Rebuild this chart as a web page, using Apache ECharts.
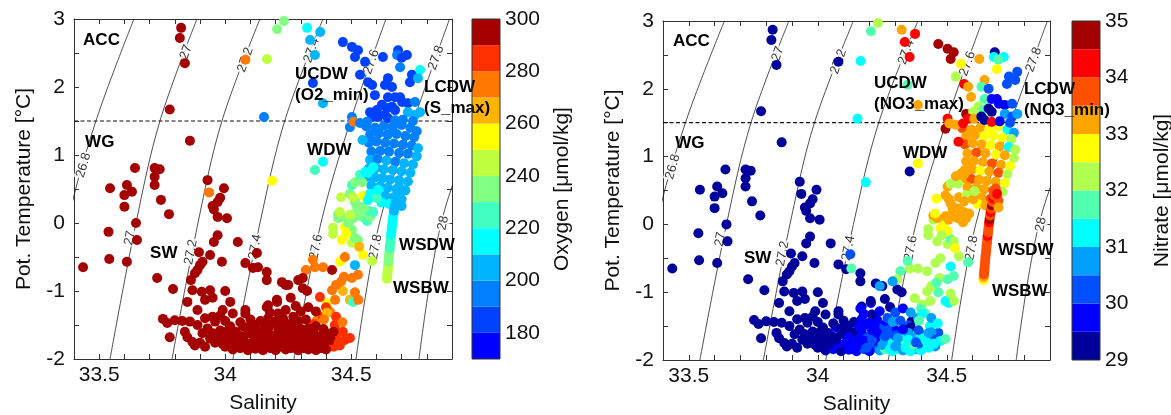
<!DOCTYPE html>
<html>
<head>
<meta charset="utf-8">
<script src="https://cdn.jsdelivr.net/npm/echarts/dist/echarts.min.js"></script>
<style>
  html, body { margin: 0; padding: 0; background: #fff; }
  #chart { width: 1171px; height: 415px; }
</style>
</head>
<body>
<div id="chart"></div>
<script>
// ---- Hydrographic samples: [salinity, potential temperature, oxygen, nitrate] ----
const wdwCore = [
  [34.560,1.42,192,33.8],[34.595,1.40,190,33.3],[34.630,1.43,190,33.3],[34.665,1.41,192,32.9],
  [34.700,1.44,192,32.8],[34.735,1.40,195,31.2],[34.760,1.35,198,30.7],[34.575,1.30,192,33.3],
  [34.610,1.32,192,33.4],[34.645,1.30,195,32.9],[34.680,1.31,195,32.8],[34.715,1.28,195,32.9],
  [34.750,1.26,198,32.3],[34.570,1.18,195,33.7],[34.600,1.20,195,33.3],[34.635,1.18,195,33.3],
  [34.670,1.17,198,32.8],[34.705,1.15,195,33.2],[34.740,1.14,198,31.2],[34.765,1.10,202,32.3],
  [34.580,1.05,198,33.3],[34.615,1.06,195,33.6],[34.650,1.05,198,33.3],[34.690,1.03,198,32.9],
  [34.725,1.02,198,33.2],[34.760,0.98,205,32.2],[34.575,0.93,202,33.3],[34.605,0.94,198,33.4],
  [34.640,0.92,202,33.3],[34.675,0.90,198,33.7],[34.710,0.88,202,33.3],[34.745,0.86,205,32.8],
  [34.570,0.80,205,33.3],[34.600,0.81,202,33.3],[34.630,0.79,205,32.9],[34.665,0.78,202,33.3],
  [34.700,0.76,205,33.7],[34.735,0.74,205,32.3],[34.565,0.68,205,33.3],[34.595,0.67,205,33.6],
  [34.625,0.66,205,33.3],[34.655,0.64,205,33.3],[34.690,0.63,205,33.3],[34.725,0.61,208,32.9],
  [34.580,0.55,208,33.3],[34.615,0.54,205,33.3],[34.645,0.52,205,33.3],[34.680,0.50,208,33.7],
  [34.715,0.48,208,32.3],[34.600,0.42,212,33.3],[34.635,0.40,208,33.4],[34.670,0.38,208,33.7],
  [34.620,0.30,215,32.8],[34.650,0.28,212,33.3]
];

const wsdwColumn = [
  [34.642,-0.82,245,32.8],[34.643,-0.78,245,33.2],[34.644,-0.74,245,33.6],[34.645,-0.70,245,33.7],
  [34.646,-0.66,245,33.7],[34.647,-0.62,240,33.7],[34.648,-0.57,235,33.7],[34.649,-0.52,235,33.7],
  [34.650,-0.47,235,33.7],[34.652,-0.42,230,33.7],[34.653,-0.37,228,33.7],[34.654,-0.32,225,33.7],
  [34.656,-0.27,225,33.7],[34.657,-0.22,222,33.8],[34.658,-0.17,218,34.1],[34.660,-0.12,215,33.7],
  [34.661,-0.07,215,33.7],[34.663,-0.02,215,33.7],[34.664,0.03,215,34.2],[34.666,0.08,212,34.6],
  [34.668,0.13,210,33.7],[34.670,0.18,208,34.2],[34.672,0.23,205,33.7],[34.675,0.28,205,34.6],
  [34.678,0.33,205,33.7],[34.680,0.38,205,34.2],[34.683,0.43,205,33.7],[34.686,0.48,205,33.7],
  [34.690,0.53,205,33.7],[34.700,0.35,205,33.7],[34.695,0.45,205,34.2],[34.700,0.25,205,33.3]
];

const cdwUpper = [
  [34.080,2.40,275,29.2],[34.166,2.41,245,31.2],[34.206,2.85,235,31.7],[34.233,2.97,235,32.2],
  [34.154,1.56,195,31.2],[34.325,2.87,210,33.3],[34.377,2.81,200,34.2],[34.337,2.69,205,34.3],
  [34.356,2.47,205,34.2],[34.467,2.66,185,34.7],[34.503,2.59,185,34.7],[34.527,2.54,185,34.6],
  [34.515,2.44,185,34.7],[34.555,2.37,185,32.8],[34.535,2.18,185,32.3],[34.567,2.07,180,34.2],
  [34.348,2.06,180,31.7],[34.388,1.76,200,33.3],[34.503,1.56,195,34.0],[34.495,1.41,195,34.8],
  [34.510,1.49,275,33.3],[34.686,2.54,185,29.3],[34.682,2.47,190,31.2],[34.721,2.47,185,31.2],
  [34.700,2.43,185,31.6],[34.626,2.44,185,33.0],[34.694,2.29,190,32.8],[34.741,2.18,185,30.0],
  [34.733,2.07,185,30.2],[34.773,2.25,210,30.0],[34.765,2.13,205,30.2],[34.646,2.13,185,33.4],
  [34.634,2.03,180,31.7],[34.662,2.00,180,30.4],[34.583,2.03,180,33.3],[34.594,1.88,185,33.3],
  [34.646,1.85,180,31.7],[34.674,1.85,180,29.8],[34.694,1.85,180,29.8],[34.622,1.74,180,32.3],
  [34.642,1.69,180,31.7],[34.662,1.71,180,29.3],[34.674,1.66,180,29.3],[34.702,1.78,185,29.8],
  [34.725,1.76,185,29.8],[34.753,1.78,190,30.2],[34.575,1.63,185,34.6],[34.602,1.66,180,32.3],
  [34.583,1.56,180,34.2],[34.606,1.56,185,33.3],[34.634,1.59,185,29.3],[34.646,1.54,185,29.3],
  [34.674,1.51,190,34.2],[34.725,1.63,200,30.5],[34.753,1.59,200,30.2],[34.773,1.63,205,30.6],
  [34.535,1.47,195,33.3],[34.563,1.49,190,34.2],[34.545,1.22,205,34.2],[34.745,1.50,195,30.2],
  [34.705,1.52,190,29.5]
];

const mixedLayer = [
  [34.309,-1.43,245,31.2],[34.280,-1.55,215,33.3],[34.364,-1.43,272,29.3],[34.388,-1.38,282,30.7],
  [34.435,-1.50,285,31.2],[34.467,-1.60,285,30.3],[34.475,-1.72,282,31.3],[34.495,-1.69,285,31.7],
  [34.455,-1.80,285,30.7],[34.404,-1.18,255,32.0],[34.416,-1.31,270,31.5],[34.376,-1.09,282,32.2],
  [34.436,-1.13,272,32.4],[34.424,-0.99,275,32.0],[34.467,-1.00,265,31.7],[34.495,-1.13,265,31.2],
  [34.507,-1.16,225,31.2],[34.515,-1.02,275,32.2],[34.400,-1.24,282,31.8],[34.440,-1.38,282,30.7],
  [34.465,-1.46,278,31.2],[34.356,-0.65,275,32.2],[34.388,-0.65,275,32.2],[34.348,-0.54,275,31.7],
  [34.424,-0.69,295,32.2],[34.471,-0.79,275,32.0],[34.503,-0.81,275,31.6],[34.456,-0.57,255,32.3],
  [34.515,-0.62,205,31.2],[34.527,-0.76,275,31.5],[34.475,-0.50,270,32.4],[34.547,-0.47,255,32.2],
  [34.583,-0.56,245,31.8],[34.463,-0.25,255,32.4],[34.503,-0.29,245,32.2],[34.515,-0.22,235,31.8],
  [34.527,-0.25,238,32.2],[34.503,-0.10,238,32.8],[34.475,-0.06,255,32.8],[34.428,-0.07,245,32.2],
  [34.448,0.07,235,32.2],[34.488,0.00,235,32.7],[34.507,0.07,235,33.3],[34.515,0.13,232,33.3],
  [34.448,0.13,235,33.2],[34.463,0.09,235,33.1],[34.543,0.09,230,33.3],[34.563,0.03,225,33.4],
  [34.575,0.09,230,33.3],[34.587,0.16,225,33.3],[34.567,0.18,228,33.4],[34.551,0.21,230,33.3],
  [34.539,0.24,232,33.2],[34.523,0.24,232,33.3],[34.515,0.31,235,33.3],[34.495,0.43,238,33.3],
  [34.507,0.38,240,33.2],[34.460,0.38,245,32.8],[34.547,0.40,255,33.0],[34.575,0.43,215,32.2],
  [34.567,0.34,215,33.3],[34.543,0.60,235,32.2],[34.567,0.74,215,33.3],[34.587,0.82,210,33.3],
  [34.503,0.56,225,33.3],[34.515,0.60,230,32.2],[34.535,0.71,220,33.3],[34.555,0.75,215,33.3],
  [34.602,0.37,220,33.3],[34.607,0.49,215,32.3],[34.388,0.90,215,32.8],[34.356,0.78,225,29.3],
  [34.186,0.62,255,31.2],[34.455,0.16,245,32.5],[34.495,0.12,245,33.0],[34.428,-0.16,245,32.2],
  [34.480,-0.16,255,32.2],[34.532,-0.35,265,32.8],[34.320,-0.69,275,31.8],[34.308,-0.81,295,32.2],
  [34.308,-0.96,295,29.3],[34.440,-0.91,272,32.2],[34.460,-0.86,272,31.8],[34.528,-1.13,272,32.4],
  [34.404,-1.32,265,31.2],[34.392,-1.42,272,31.7],[34.440,-1.59,282,30.7],[34.350,-1.49,285,30.2],
  [34.343,-1.58,285,30.7]
];

const coldBottom = [
  [33.753,-1.41,295,29.2],[33.770,-1.47,295,29.2],[33.800,-1.43,295,29.2],[33.830,-1.44,295,29.2],
  [33.860,-1.45,295,29.2],[33.890,-1.50,295,29.2],[33.920,-1.40,295,29.2],[33.950,-1.38,295,29.2],
  [33.980,-1.36,295,29.2],[34.030,-1.33,295,29.2],[34.080,-1.33,295,29.2],[33.960,-1.45,295,29.2],
  [34.000,-1.44,295,29.2],[33.780,-1.68,295,29.2],[33.840,-1.60,295,29.2],[33.850,-1.68,295,29.2],
  [33.870,-1.75,295,29.2],[33.900,-1.76,295,29.2],[33.910,-1.62,295,29.2],[33.930,-1.55,295,29.2],
  [33.960,-1.76,295,29.2],[33.980,-1.58,295,29.2],[34.000,-1.65,295,29.2],[34.020,-1.52,295,29.2],
  [34.040,-1.60,295,29.2],[34.050,-1.72,295,29.2],[34.070,-1.52,295,29.7],[34.090,-1.62,295,29.2],
  [34.100,-1.80,295,29.7],[34.120,-1.50,295,29.2],[34.130,-1.70,295,29.7],[34.150,-1.58,295,29.2],
  [34.170,-1.78,295,29.7],[34.180,-1.48,295,29.7],[34.190,-1.66,295,30.2],[34.210,-1.56,295,29.7],
  [34.220,-1.82,295,30.2],[34.230,-1.72,295,29.7],[34.250,-1.62,295,30.7],[34.260,-1.48,295,29.7],
  [34.270,-1.78,295,31.2],[34.280,-1.68,295,30.2],[34.300,-1.56,295,29.7],[34.310,-1.84,295,31.7],
  [34.320,-1.72,295,30.7],[34.330,-1.63,295,31.2],[34.350,-1.80,295,30.2],[34.360,-1.52,295,29.3],
  [34.370,-1.70,295,31.2],[34.380,-1.84,295,30.7],[34.400,-1.62,292,30.7],[34.410,-1.76,292,31.7],
  [34.430,-1.82,288,31.2],[34.440,-1.68,288,30.2],[34.000,-1.82,295,29.2],[34.030,-1.86,295,29.2],
  [34.060,-1.84,295,29.7],[34.090,-1.87,295,29.2],[34.120,-1.85,295,29.7],[34.150,-1.87,295,29.7],
  [34.180,-1.84,295,30.2],[34.200,-1.87,295,29.7],[34.240,-1.86,295,30.7],[34.260,-1.84,295,31.7],
  [34.290,-1.87,295,31.2],[34.330,-1.86,295,30.7],[34.360,-1.87,295,31.2],[34.400,-1.86,295,31.2],
  [34.020,-1.74,295,29.2],[34.060,-1.66,295,29.2],[34.080,-1.76,295,29.7],[34.110,-1.58,295,29.2],
  [34.140,-1.78,295,29.7],[34.160,-1.68,295,29.7],[34.200,-1.75,295,30.2],[34.220,-1.64,295,29.7],
  [34.240,-1.54,295,30.2],[34.260,-1.70,295,30.7],[34.290,-1.75,295,31.2],[34.300,-1.64,295,30.2],
  [34.340,-1.74,295,31.7],[34.350,-1.60,295,30.7],[34.380,-1.66,295,31.2],[34.390,-1.76,295,30.2],
  [34.420,-1.72,290,31.2],[34.100,-1.42,295,29.2],[34.140,-1.44,295,29.2],[34.170,-1.40,295,29.7],
  [34.200,-1.45,295,29.7],[34.230,-1.41,295,29.7],[34.270,-1.38,295,30.2],[34.290,-1.44,295,30.7],
  [34.210,-1.33,295,29.3],[34.320,-1.42,295,30.2],[34.250,-0.91,295,29.3],[34.325,-1.00,295,29.3],
  [34.206,-1.16,295,29.8],[34.170,-1.21,295,29.3],[34.178,-1.32,295,29.7],
  [33.950,-1.62,295,29.2],[33.970,-1.70,295,29.2],[33.990,-1.78,295,29.2],[34.010,-1.58,295,29.2],
  [34.030,-1.68,295,29.2],[34.050,-1.80,295,29.7],[34.070,-1.70,295,29.2],[34.090,-1.54,295,29.2],
  [34.110,-1.74,295,29.7],[34.130,-1.62,295,29.2],[34.150,-1.80,295,29.7],[34.170,-1.56,295,29.7],
  [34.180,-1.72,295,29.7],[34.210,-1.70,295,30.2],[34.230,-1.60,295,29.7],[34.250,-1.78,295,30.7],
  [34.270,-1.56,295,30.2],[34.280,-1.84,295,31.2],[34.310,-1.68,295,30.7],[34.330,-1.55,295,29.7],
  [34.340,-1.82,295,31.2],[34.360,-1.66,295,30.7],[34.370,-1.78,295,31.7],[34.390,-1.56,292,30.2],
  [34.410,-1.68,292,31.2],[34.430,-1.60,290,30.7],[34.450,-1.76,288,31.2],[34.120,-1.66,295,29.7],
  [34.190,-1.82,295,30.2],[34.040,-1.78,295,29.2],[33.940,-1.70,295,29.2],[33.920,-1.82,295,29.2],
  [33.880,-1.80,295,29.2],[34.220,-1.50,295,29.7],[34.160,-1.50,295,29.7],[34.060,-1.46,295,29.2],
  [34.260,-1.65,295,30.2],[34.350,-1.70,295,31.2],[34.300,-1.80,295,30.7],[34.380,-1.74,295,30.2],
  [34.240,-1.28,295,29.7],[34.280,-1.22,295,29.3],[34.300,-1.30,295,30.2],[34.330,-1.24,295,29.7],
  [34.260,-1.10,295,29.3],[34.360,-1.30,295,30.7]
];

const shelfWater = [
  [33.825,2.87,295,29.2],[33.820,2.72,295,29.2],[33.840,2.35,295,29.2],[33.780,1.67,295,29.2],
  [33.860,1.21,295,29.2],[33.642,0.81,295,29.2],[33.543,0.51,295,29.2],[33.610,0.56,295,29.2],
  [33.630,0.46,295,29.2],[33.600,0.41,295,29.2],[33.720,0.81,295,29.2],[33.740,0.79,295,29.2],
  [33.720,0.68,295,29.2],[33.720,0.56,295,29.2],[33.745,0.34,295,29.2],[33.930,0.63,295,29.2],
  [33.936,0.45,275,29.2],[33.995,0.51,295,29.2],[33.980,0.37,295,29.2],[33.970,0.31,295,29.2],
  [33.950,0.25,295,29.2],[33.600,0.24,295,29.2],[33.777,0.13,295,29.2],[33.646,0.00,295,29.2],
  [33.537,-0.13,295,29.2],[33.650,-0.25,295,29.2],[33.540,-0.53,295,29.2],[33.610,-0.57,295,29.2],
  [33.436,-0.65,295,29.2],[33.730,-0.81,295,29.2],[33.793,-0.97,295,29.2],[33.955,0.20,295,29.2],
  [33.970,0.09,295,29.2],[34.007,0.07,295,29.2],[33.970,-0.18,295,29.2],[33.955,-0.28,295,29.2],
  [33.896,-0.43,295,29.2],[33.940,-0.47,295,29.2],[33.910,-0.57,295,29.2],[33.900,-0.62,295,29.2],
  [33.890,-0.69,295,29.2],[33.880,-0.74,295,29.2],[33.864,-0.84,295,29.2],[33.987,-0.57,295,29.2],
  [34.050,-0.28,295,29.2],[34.080,-0.59,295,29.2],[34.110,-0.66,295,29.2],[34.130,-0.65,295,31.7],
  [34.165,-0.72,295,29.2],[34.165,-0.84,295,29.2],[34.126,-0.44,295,30.2],[34.225,-0.87,295,29.3],
  [34.240,-0.91,295,30.7],[34.290,-0.84,295,30.6],[33.907,-1.01,295,29.2],[33.940,-0.99,295,29.2],
  [33.920,-1.13,295,29.2],[33.950,-1.10,295,29.2],[34.000,-1.00,295,29.2],[34.020,-1.16,295,29.2],
  [33.990,-1.28,295,29.2],[33.890,-1.28,295,29.2],[33.850,-1.16,295,29.2],[33.870,-0.99,295,29.2],
  [34.080,-1.28,295,29.2],[34.165,-1.24,295,29.8],[34.205,-1.13,295,29.3]
];

// ---- Isopycnals (sigma-theta): salinity at each reference temperature ----
const isoTemps = [-2, 0, 1.5, 3];
const isoLevels = ['26.8', '27', '27.2', '27.4', '27.6', '27.8', '28'];
const iso268 = [33.290, 33.375, 33.487, 33.638];
const iso270 = [33.543, 33.646, 33.741, 33.888];
const iso272 = [33.789, 33.892, 33.987, 34.138];
const iso274 = [34.031, 34.138, 34.236, 34.388];
const iso276 = [34.273, 34.380, 34.497, 34.638];
const iso278 = [34.519, 34.612, 34.747, 34.890];
const iso280 = [34.769, 34.857, 34.997, 35.140];
const isoSalinities = [iso268, iso270, iso272, iso274, iso276, iso278, iso280];

// contour labels: [salinity, temperature, text]
const isoLabels = [
  [33.438, 0.85, '26.8'], [33.845, 2.515, '27'], [33.622, -0.22, '27'],
  [34.080, 2.40, '27.2'], [33.864, -0.43, '27.2'], [34.343, 2.54, '27.4'],
  [34.119, -0.35, '27.4'], [34.580, 2.37, '27.6'], [34.361, -0.35, '27.6'],
  [34.837, 2.43, '27.8'], [34.597, -0.35, '27.8'], [34.865, 0.0, '28']
];

// ACC / Weddell Gyre boundary temperature
const frontTemp = 1.5;

// water-mass annotations: [salinity, temperature, text]
const oxygenNotes = [
  [33.436, 2.69, 'ACC'], [33.444, 1.18, 'WG'], [34.277, 2.033, 'UCDW\n(O2_min)'],
  [34.789, 1.846, 'LCDW\n(S_max)'], [34.325, 1.074, 'WDW'], [33.702, -0.449, 'SW'],
  [34.690, -0.324, 'WSDW'], [34.666, -0.963, 'WSBW']
];
const nitrateNotes = [
  [33.439, 2.705, 'ACC'], [33.447, 1.20, 'WG'], [34.218, 1.927, 'UCDW\n(NO3_max)'],
  [34.799, 1.831, 'LCDW\n(NO3_min)'], [34.330, 1.046, 'WDW'], [33.714, -0.503, 'SW'],
  [34.698, -0.378, 'WSDW'], [34.675, -0.990, 'WSBW']
];

// ---- Axis ranges and colour scales ----
const salRange = [33.4, 34.9];
const tempRange = [-2, 3];
const oxygenEdges = [170, 180, 190, 200, 210, 220, 230, 240, 250, 260, 270, 280, 290, 300];
const oxygenTicks = [180, 200, 220, 240, 260, 280, 300];
const oxygenColors = ['#0000ff', '#0040ff', '#0080ff', '#00b4ff', '#00ffff', '#40ffc0',
  '#80ff80', '#c0ff40', '#ffff00', '#ffb400', '#ff7800', '#ff3000', '#a50000'];
const nitrateEdges = [29, 29.5, 30, 30.5, 31, 31.5, 32, 32.5, 33, 33.5, 34, 34.5, 35];
const nitrateTicks = [29, 30, 31, 32, 33, 34, 35];
const nitrateColors = ['#00009a', '#0000ff', '#0050ff', '#00a0ff', '#00ffff', '#50ffb0',
  '#b0ff50', '#ffff00', '#ffa500', '#ff5000', '#ff0000', '#a50000'];

const FONT = 'Arial, "Liberation Sans", Helvetica, sans-serif';
const samples = [].concat(wdwCore, wsdwColumn, cdwUpper, mixedLayer, coldBottom, shelfWater);

const chart = echarts.init(document.getElementById('chart'), null, { renderer: 'canvas' });

const panels = [
  { grid: { left: 74, top: 19, width: 378, height: 340 }, cb: { left: 472, top: 19, width: 28, height: 340 },
    valueDim: 2, edges: oxygenEdges, colors: oxygenColors, ticks: oxygenTicks,
    cbName: 'Oxygen [\u03bcmol/kg]', notes: oxygenNotes },
  { grid: { left: 663, top: 21, width: 387, height: 339 }, cb: { left: 1072, top: 21, width: 28, height: 339 },
    valueDim: 3, edges: nitrateEdges, colors: nitrateColors, ticks: nitrateTicks,
    cbName: 'Nitrate [\u03bcmol/kg]', notes: nitrateNotes }
];

const grids = [], xAxes = [], yAxes = [], series = [], visualMaps = [];
const frameColor = '#333';
// grids keep their exact box; labels and names may sit outside it
const gridBase = { containLabel: false, outerBoundsMode: 'none' };

function salLabel(v) {
  const r = Math.round(v * 10) / 10;
  return Math.abs(r * 2 - Math.round(r * 2)) < 1e-9 ? String(r) : '';
}
function tempLabel(v) {
  const r = Math.round(v * 10) / 10;
  return Number.isInteger(r) ? String(r) : '';
}
// steeper label angle where the isopycnals turn more vertical (cold water)
function isoAngle(t) {
  return t > 2 ? 70 : (t > 0.5 ? 74 : 79);
}

panels.forEach((p) => {
  const gi = grids.length;
  grids.push(Object.assign({}, gridBase, p.grid));
  const xi = xAxes.length, yi = yAxes.length;
  const tick = { show: true, inside: true, length: 5, lineStyle: { color: frameColor, width: 1 } };
  const line = { show: true, onZero: false, lineStyle: { color: frameColor, width: 1 } };
  xAxes.push({
    gridIndex: gi, type: 'value', position: 'bottom', min: salRange[0], max: salRange[1], interval: 0.1,
    axisLine: line, axisTick: tick, splitLine: { show: false },
    axisLabel: { formatter: salLabel, fontSize: 21, color: '#111', fontFamily: FONT, margin: 6 },
    name: 'Salinity', nameLocation: 'middle', nameGap: 34,
    nameTextStyle: { fontSize: 21, color: '#111', fontFamily: FONT }
  });
  xAxes.push({
    gridIndex: gi, type: 'value', position: 'top', min: salRange[0], max: salRange[1], interval: 0.1,
    axisLine: line, axisTick: tick, axisLabel: { show: false }, splitLine: { show: false }
  });
  yAxes.push({
    gridIndex: gi, type: 'value', position: 'left', min: tempRange[0], max: tempRange[1], interval: 0.5,
    axisLine: line, axisTick: tick, splitLine: { show: false },
    axisLabel: { formatter: tempLabel, fontSize: 21, color: '#111', fontFamily: FONT, margin: 9 },
    name: 'Pot. Temperature [\u00b0C]', nameLocation: 'middle', nameGap: 39, nameRotate: 90,
    nameTextStyle: { fontSize: 21, color: '#111', fontFamily: FONT }
  });
  yAxes.push({
    gridIndex: gi, type: 'value', position: 'right', min: tempRange[0], max: tempRange[1], interval: 0.5,
    axisLine: line, axisTick: tick, axisLabel: { show: false }, splitLine: { show: false }
  });

  // isopycnals
  isoSalinities.forEach((sal, i) => {
    series.push({
      type: 'line', name: 'sigma ' + isoLevels[i], xAxisIndex: xi, yAxisIndex: yi,
      data: sal.map((s, j) => [s, isoTemps[j]]), smooth: 0.35, showSymbol: false, symbol: 'none',
      lineStyle: { color: '#222', width: 0.8 }, silent: true, clip: true, z: 1
    });
  });
  // gyre boundary
  series.push({
    type: 'line', xAxisIndex: xi, yAxisIndex: yi, data: [[salRange[0], frontTemp], [salRange[1], frontTemp]],
    showSymbol: false, symbol: 'none', lineStyle: { color: '#111', width: 1.2, type: [4, 2.5] }, silent: true, z: 1
  });
  // isopycnal labels
  series.push({
    type: 'scatter', xAxisIndex: xi, yAxisIndex: yi, symbolSize: 0, silent: true, z: 2,
    data: isoLabels.map(d => ({ value: [d[0], d[1]], name: d[2], label: { rotate: isoAngle(d[1]) } })),
    label: {
      show: true, position: 'inside', formatter: q => q.name, fontSize: 13, color: '#000', fontFamily: FONT,
      backgroundColor: '#fff', padding: [0, 1], textBorderWidth: 0
    }
  });
  // samples
  const si = series.length;
  series.push({
    type: 'scatter', xAxisIndex: xi, yAxisIndex: yi, data: samples, symbolSize: 10,
    encode: { x: 0, y: 1 }, itemStyle: { opacity: 1 }, z: 3, clip: true
  });
  visualMaps.push({
    type: 'piecewise', show: false, seriesIndex: si, dimension: p.valueDim,
    pieces: p.colors.map((c, i) => (i === p.colors.length - 1
      ? { gte: p.edges[i], lte: p.edges[i + 1], color: c }
      : { gte: p.edges[i], lt: p.edges[i + 1], color: c }))
  });
  // water-mass annotations
  series.push({
    type: 'scatter', xAxisIndex: xi, yAxisIndex: yi, symbolSize: 0, silent: true, z: 4, clip: false,
    data: p.notes.map(d => ({ value: [d[0], d[1]], name: d[2] })),
    label: {
      show: true, position: [0, 0], align: 'left', verticalAlign: 'middle', formatter: q => q.name,
      fontSize: 17, fontWeight: 'bold', color: '#000', fontFamily: FONT, lineHeight: 21,
      textBorderWidth: 0, opacity: 1
    }
  });

  // colorbar
  const cg = grids.length;
  grids.push(Object.assign({}, gridBase, p.cb));
  const cx = xAxes.length, cy = yAxes.length;
  xAxes.push({ gridIndex: cg, type: 'value', min: 0, max: 1, show: false });
  yAxes.push({
    gridIndex: cg, type: 'value', position: 'right', min: p.edges[0], max: p.edges[p.edges.length - 1],
    interval: p.edges[1] - p.edges[0], axisLine: { show: false }, axisTick: { show: false }, splitLine: { show: false },
    axisLabel: {
      fontSize: 21, color: '#111', fontFamily: FONT, margin: 5,
      formatter: v => (p.ticks.some(t => Math.abs(t - v) < 1e-6) ? String(Math.round(v * 10) / 10) : '')
    },
    name: p.cbName, nameLocation: 'middle', nameRotate: 90, nameGap: 52,
    nameTextStyle: { fontSize: 21, color: '#111', fontFamily: FONT }
  });
  series.push({
    type: 'custom', xAxisIndex: cx, yAxisIndex: cy, silent: true,
    data: p.colors.map((c, i) => [p.edges[i], p.edges[i + 1], i]),
    renderItem: (params, api) => {
      const a = api.coord([0, api.value(0)]);
      const b = api.coord([1, api.value(1)]);
      return { type: 'rect', shape: { x: a[0], y: b[1], width: b[0] - a[0], height: a[1] - b[1] },
        style: { fill: p.colors[api.value(2)], stroke: null } };
    }
  });
  series.push({
    type: 'custom', xAxisIndex: cx, yAxisIndex: cy, silent: true, z: 5,
    data: [[p.edges[0], p.edges[p.edges.length - 1]]],
    renderItem: (params, api) => {
      const a = api.coord([0, api.value(0)]);
      const b = api.coord([1, api.value(1)]);
      return { type: 'rect', shape: { x: a[0], y: b[1], width: b[0] - a[0], height: a[1] - b[1] },
        style: { fill: 'none', stroke: frameColor, lineWidth: 1 } };
    }
  });
});

chart.setOption({
  animation: false,
  backgroundColor: '#fff',
  grid: grids, xAxis: xAxes, yAxis: yAxes, visualMap: visualMaps, series: series
});
</script>
</body>
</html>
